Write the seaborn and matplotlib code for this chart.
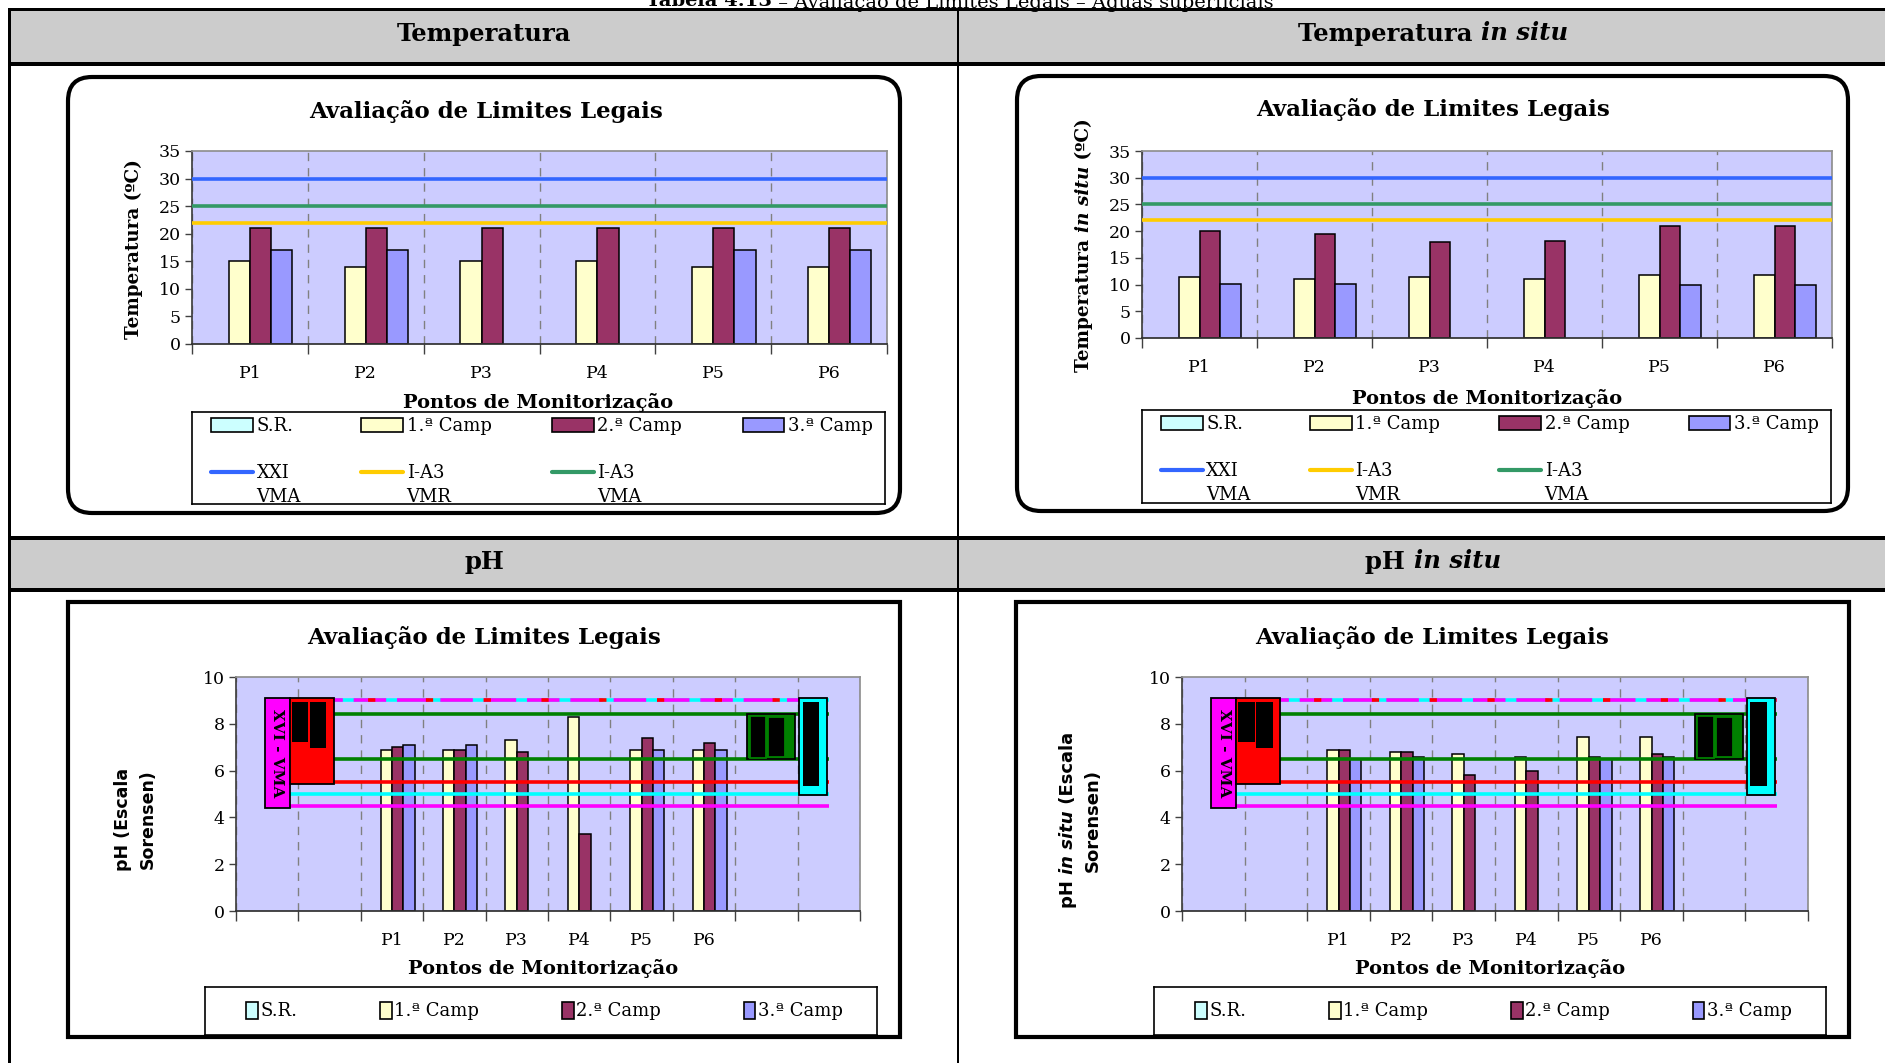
import numpy as np
import pandas as pd
import seaborn as sns
import matplotlib.pyplot as plt
from matplotlib.patches import Rectangle, FancyBboxPatch, Patch
from matplotlib.lines import Line2D
from matplotlib.legend_handler import HandlerLine2D

pontos = ["P1", "P2", "P3", "P4", "P5", "P6"]
campanhas = ["S.R.", "1.ª Camp", "2.ª Camp", "3.ª Camp"]
cores_camp = ["#CCFFFF", "#FFFFCC", "#993366", "#9999FF"]

temp_sr = [None, None, None, None, None, None]
temp_c1 = [15, 14, 15, 15, 14, 14]
temp_c2 = [21, 21, 21, 21, 21, 21]
temp_c3 = [17, 17, None, None, 17, 17]

tsitu_sr = [None, None, None, None, None, None]
tsitu_c1 = [11.4, 11.1, 11.4, 11.1, 11.7, 11.7]
tsitu_c2 = [20.0, 19.5, 17.9, 18.2, 21.0, 21.0]
tsitu_c3 = [10.2, 10.2, None, None, 9.9, 9.9]

ph_sr = [None, None, None, None, None, None]
ph_c1 = [6.9, 6.9, 7.3, 8.3, 6.9, 6.9]
ph_c2 = [7.0, 6.9, 6.8, 3.3, 7.4, 7.2]
ph_c3 = [7.1, 7.1, None, None, 6.9, 6.9]

phsitu_sr = [None, None, None, None, None, None]
phsitu_c1 = [6.9, 6.8, 6.7, 6.6, 7.45, 7.45]
phsitu_c2 = [6.9, 6.8, 5.8, 6.0, 6.6, 6.7]
phsitu_c3 = [6.5, 6.6, None, None, 6.5, 6.6]

# eixo do pH tem duas categorias vazias de cada lado
ph_eixo = [" ", "  ", "P1", "P2", "P3", "P4", "P5", "P6", "   ", "    "]

temp_lim_nomes = ["XXI\nVMA", "I-A3\nVMR", "I-A3\nVMA"]
temp_lim_valores = [30, 22, 25]
temp_lim_cores = ["#3366FF", "#FFCC00", "#339966"]

ph_lim_min = [4.5, 5.0, 5.5, 6.5]
ph_lim_max = [9.0, 9.0, 9.0, 8.4]
ph_lim_cores = ["#FF00FF", "#00FFFF", "#FF0000", "#008000"]
ph_lim_traco_max = [(0, (9, 3)), "-", (4, (2, 14)), "-"]
ph_lim_ordem_max = [3.2, 3.0, 3.4, 3.0]

# caixas dos rotulos (x em categorias, y em pH)
caixas_ph = [
    (-0.04, 0.37, 4.42, 9.09, "#FF00FF", "black"),
    (0.37, 1.07, 5.42, 9.09, "#FF0000", "black"),
    (0.39, 0.66, 7.23, 8.93, "black", "none"),
    (0.68, 0.95, 6.97, 8.93, "black", "none"),
    (7.69, 8.46, 6.48, 8.43, "#008000", "black"),
    (7.73, 8.00, 6.54, 8.34, "black", "#008000"),
    (8.03, 8.30, 6.58, 8.30, "black", "#008000"),
    (8.52, 8.97, 4.95, 9.09, "#00FFFF", "black"),
    (8.58, 8.84, 5.35, 8.93, "black", "none"),
]

W, H = 1885, 1063

sns.set_theme(style="white")
plt.rcParams["font.family"] = ["DejaVu Serif"]
plt.rcParams["text.color"] = "black"
plt.rcParams["xtick.color"] = "black"
plt.rcParams["ytick.color"] = "black"


def tabela(sr, c1, c2, c3):
    linhas = []
    for nome, vals in zip(campanhas, [sr, c1, c2, c3]):
        for p, v in zip(pontos, vals):
            linhas.append({"ponto": p, "campanha": nome,
                           "valor": np.nan if v is None else float(v)})
    return pd.DataFrame(linhas)


def frac(r):
    x0, y0, x1, y1 = r
    return [x0 / W, 1 - y1 / H, (x1 - x0) / W, (y1 - y0) / H]


fig = plt.figure(figsize=(W / 100, H / 100), dpi=100)
bg = fig.add_axes([0, 0, 1, 1], zorder=0)
bg.set_xlim(0, W)
bg.set_ylim(H, 0)
bg.axis("off")
rend = fig.canvas.get_renderer()


def ret(x0, y0, x1, y1, cor):
    bg.add_patch(Rectangle((x0, y0), x1 - x0, y1 - y0, facecolor=cor,
                           edgecolor="none", lw=0))


def texto_misto(x, y, partes, size, rot=0, familia="DejaVu Serif"):
    objs = []
    for txt, peso, estilo in partes:
        objs.append(bg.text(0, 0, txt, fontsize=size, fontweight=peso,
                            fontstyle=estilo, family=familia, rotation=rot,
                            rotation_mode="anchor", ha="left",
                            va="center_baseline"))
    tam = []
    for t in objs:
        bb = t.get_window_extent(rend)
        tam.append(bb.width if rot == 0 else bb.height)
    pos = -sum(tam) / 2
    for t, d in zip(objs, tam):
        t.set_position((x + pos, y) if rot == 0 else (x, y - pos))
        pos += d


# ---- quadro (tabela) ----
ret(8, 8, W, 11, "black")
ret(8, 11, W, 62, "#CCCCCC")
ret(8, 62, W, 66, "black")
ret(8, 536, W, 540, "black")
ret(8, 540, W, 588, "#CCCCCC")
ret(8, 588, W, 592, "black")
ret(8, 8, 11, H, "black")
ret(957, 8, 959, H, "black")

texto_misto(960, -1, [("Tabela 4.13", "bold", "normal"),
                      (" – Avaliação de Limites Legais – Águas superficiais",
                       "normal", "normal")], 14)
texto_misto(484, 31, [("Temperatura", "bold", "normal")], 17.5)
texto_misto(1433, 31, [("Temperatura ", "bold", "normal"),
                       ("in situ", "bold", "italic")], 17.5)
texto_misto(484, 559, [("pH", "bold", "normal")], 17.5)
texto_misto(1433, 559, [("pH ", "bold", "normal"),
                        ("in situ", "bold", "italic")], 17.5)

# caixas dos graficos
for x0, y0, x1, y1 in [(68, 77, 900, 513), (1017, 76, 1848, 511)]:
    bg.add_patch(FancyBboxPatch((x0, y0), x1 - x0, y1 - y0,
                                boxstyle="round,pad=0,rounding_size=24",
                                facecolor="white", edgecolor="black", lw=3))
for x0, y0, x1, y1 in [(68, 602, 900, 1037), (1016, 602, 1849, 1037)]:
    bg.add_patch(Rectangle((x0, y0), x1 - x0, y1 - y0, facecolor="white",
                           edgecolor="black", lw=3))


def eixo_barras(rect, df, ordem, ymax, passo):
    ax = fig.add_axes(frac(rect), zorder=2)
    sns.barplot(data=df, x="ponto", y="valor", hue="campanha", order=ordem,
                hue_order=campanhas, palette=cores_camp, saturation=1,
                width=0.73, edgecolor="black", linewidth=1.1, errorbar=None,
                legend=False, ax=ax, zorder=2)
    n = len(ordem)
    ax.set_facecolor("#CCCCFF")
    ax.set_xlim(-0.5, n - 0.5)
    ax.set_ylim(0, ymax)
    ax.set_yticks(np.arange(0, ymax + 0.1, passo))
    ax.set_xticks(np.arange(n + 1) - 0.5, minor=True)
    ax.tick_params(axis="x", which="major", length=0, pad=15, labelsize=12.5)
    ax.tick_params(axis="x", which="minor", length=7, width=1,
                   direction="out", bottom=True, color="#404040")
    ax.tick_params(axis="y", length=5, width=1, direction="out", left=True,
                   labelsize=12.5, pad=3, color="#404040")
    ax.grid(False)
    ax.set_axisbelow(True)
    ax.grid(axis="x", which="minor", color="#808080",
            linestyle=(0, (6, 5)), linewidth=1)
    for lado in ["top", "right"]:
        ax.spines[lado].set_color("#909090")
    ax.spines["left"].set_color("#404040")
    ax.spines["bottom"].set_color("#303030")
    ax.set_xlabel("")
    ax.set_ylabel("")
    return ax


def caixa_legenda(rect):
    lax = fig.add_axes(frac(rect), zorder=3)
    lax.set_xticks([])
    lax.set_yticks([])
    lax.set_facecolor("white")
    for s in lax.spines.values():
        s.set_color("black")
        s.set_linewidth(1.2)
    return lax


class LinhaTopo(HandlerLine2D):
    # coloca a linha ao nivel da primeira linha do rotulo
    def create_artists(self, legend, orig_handle, xdescent, ydescent, width,
                       height, fontsize, trans):
        arts = super().create_artists(legend, orig_handle, xdescent, ydescent,
                                      width, height, fontsize, trans)
        for a in arts:
            a.set_ydata([y + 9.5 for y in a.get_ydata()])
        return arts


def legenda_temp(rect):
    lax = caixa_legenda(rect)
    camp = [Patch(facecolor=c, edgecolor="black", lw=1.2) for c in cores_camp]
    lin = [Line2D([], [], color=c, lw=3) for c in temp_lim_cores]
    hs = [camp[0], lin[0], camp[1], lin[1], camp[2], lin[2], camp[3]]
    ls = [campanhas[0], temp_lim_nomes[0], campanhas[1], temp_lim_nomes[1],
          campanhas[2], temp_lim_nomes[2], campanhas[3]]
    leg = lax.legend(hs, ls, ncol=4, mode="expand", loc="upper left",
                     bbox_to_anchor=(0.02, 0, 0.97, 1), frameon=False,
                     fontsize=13, handlelength=2.3, handleheight=0.8,
                     handletextpad=0.2, labelspacing=1.6, borderaxespad=0,
                     borderpad=0.3,
                     handler_map={Line2D: LinhaTopo()})
    for t in leg.get_texts():
        t.set_linespacing(1.4)


def legenda_ph(rect):
    lax = caixa_legenda(rect)
    camp = [Patch(facecolor=c, edgecolor="black", lw=1.2) for c in cores_camp]
    lax.legend(camp, campanhas, ncol=4, mode="expand", loc="center",
               bbox_to_anchor=(0.05, 0.05, 0.91, 0.9), frameon=False,
               fontsize=13, handlelength=0.65, handleheight=1.1,
               handletextpad=0.15, borderaxespad=0)


# ---- Temperatura ----
ax1 = eixo_barras((192, 151, 887, 344),
                  tabela(temp_sr, temp_c1, temp_c2, temp_c3), pontos, 35, 5)
for v, c in zip(temp_lim_valores, temp_lim_cores):
    ax1.axhline(v, color=c, lw=2.6, zorder=3)
texto_misto(486, 109, [("Avaliação de Limites Legais", "bold", "normal")], 16.5)
texto_misto(132, 249, [("Temperatura (ºC)", "bold", "normal")], 13.2, rot=90)
texto_misto(538, 401, [("Pontos de Monitorização", "bold", "normal")], 14)
legenda_temp((192, 412, 885, 504))

# ---- Temperatura in situ ----
ax2 = eixo_barras((1142, 151, 1832, 338),
                  tabela(tsitu_sr, tsitu_c1, tsitu_c2, tsitu_c3), pontos, 35, 5)
for v, c in zip(temp_lim_valores, temp_lim_cores):
    ax2.axhline(v, color=c, lw=2.6, zorder=3)
texto_misto(1433, 107, [("Avaliação de Limites Legais", "bold", "normal")], 16.5)
texto_misto(1082, 245, [("Temperatura ", "bold", "normal"),
                        ("in situ", "bold", "italic"),
                        (" (ºC)", "bold", "normal")], 13.3, rot=90)
texto_misto(1487, 397, [("Pontos de Monitorização", "bold", "normal")], 14)
legenda_temp((1142, 410, 1831, 503))


def linhas_ph(ax):
    fim = len(ph_eixo) - 1
    for v, c in zip(ph_lim_min, ph_lim_cores):
        ax.hlines(v, 0, fim, colors=c, lw=2.6, zorder=3)
    for v, c, tr, z in zip(ph_lim_max, ph_lim_cores, ph_lim_traco_max,
                           ph_lim_ordem_max):
        ax.hlines(v, 0, fim, colors=c, lw=2.6, linestyles=tr, zorder=z)
    for x0, x1, y0, y1, fc, ec in caixas_ph:
        ax.add_patch(Rectangle((x0, y0), x1 - x0, y1 - y0, facecolor=fc,
                               edgecolor=ec, lw=1.3, zorder=4))
    ax.text(0.165, 6.75, "XVI - VMA", rotation=270, ha="center", va="center",
            fontsize=11, fontweight="bold", zorder=5)


# ---- pH ----
ax3 = eixo_barras((236, 677, 860, 911),
                  tabela(ph_sr, ph_c1, ph_c2, ph_c3), ph_eixo, 10, 2)
linhas_ph(ax3)
texto_misto(484, 635, [("Avaliação de Limites Legais", "bold", "normal")], 16.5)
texto_misto(121, 819, [("pH (Escala", "bold", "normal")], 12.5, rot=90,
            familia="DejaVu Sans")
texto_misto(146, 819, [("Sorensen)", "bold", "normal")], 12.5, rot=90,
            familia="DejaVu Sans")
texto_misto(543, 966, [("Pontos de Monitorização", "bold", "normal")], 14)
legenda_ph((205, 987, 877, 1035))

# ---- pH in situ ----
ax4 = eixo_barras((1182, 677, 1808, 911),
                  tabela(phsitu_sr, phsitu_c1, phsitu_c2, phsitu_c3), ph_eixo, 10, 2)
linhas_ph(ax4)
texto_misto(1432, 635, [("Avaliação de Limites Legais", "bold", "normal")], 16.5)
texto_misto(1066, 820, [("pH ", "bold", "normal"), ("in situ", "bold", "italic"),
                        (" (Escala", "bold", "normal")], 13, rot=90,
            familia="DejaVu Sans")
texto_misto(1091, 820, [("Sorensen)", "bold", "normal")], 13, rot=90,
            familia="DejaVu Sans")
texto_misto(1490, 966, [("Pontos de Monitorização", "bold", "normal")], 14)
legenda_ph((1154, 987, 1826, 1035))

fig.savefig("out.png", dpi=100)
